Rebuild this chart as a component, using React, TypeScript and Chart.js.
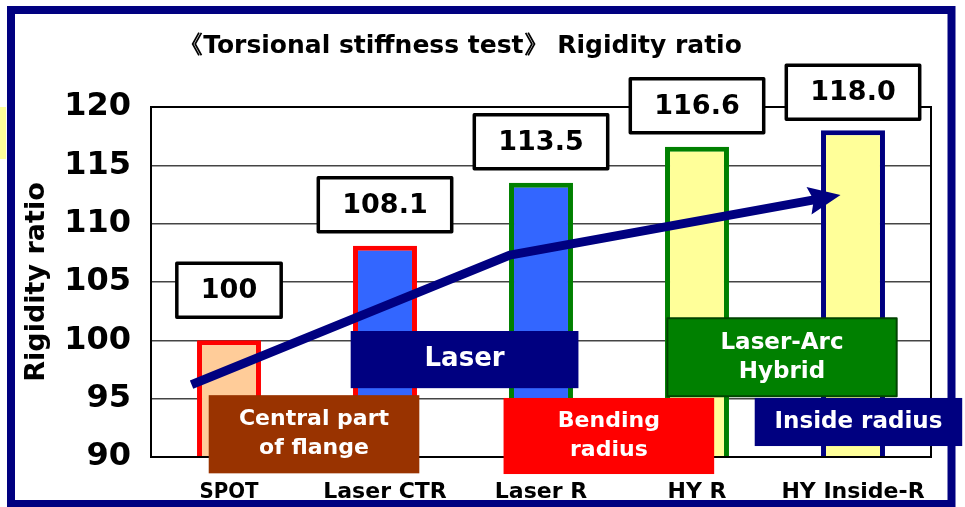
import React, { useEffect, useRef } from "react";
import { Chart, registerables } from "chart.js";

Chart.register(...registerables);

const categories = ["SPOT", "Laser CTR", "Laser R", "HY R", "HY Inside-R"];
const ratios = [100, 108.1, 113.5, 116.6, 118.0];
const valueLabels = ["100", "108.1", "113.5", "116.6", "118.0"];
const barFills = ["#FFCC99", "#3366FF", "#3366FF", "#FFFF99", "#FFFF99"];
const barBorders = ["#FF0000", "#FF0000", "#008000", "#008000", "#000080"];
// trend arrow, in (category index, ratio) coordinates
const trendIndex = [-0.24, 1.8, 3.92];
const trendRatio = [96.2, 107.3, 112.45];
const yMin = 90;
const yMax = 120;
const yStep = 5;

const FONT = "'DejaVu Sans', Verdana, sans-serif";
const TITLE = "《Torsional stiffness test》 Rigidity ratio";

// annotation boxes placed in (category index, ratio) coordinates
const notes = [
  { lines: ["Central part", "of flange"], x0: -0.13, x1: 1.22, y0: 95.3, y1: 88.6, bg: "#993300", size: 22, border: "" },
  { lines: ["Laser"], x0: 0.78, x1: 2.24, y0: 100.8, y1: 95.9, bg: "#000080", size: 26, border: "" },
  { lines: ["Bending", "radius"], x0: 1.76, x1: 3.11, y0: 95.06, y1: 88.54, bg: "#FF0000", size: 22, border: "" },
  { lines: ["Laser-Arc", "Hybrid"], x0: 2.81, x1: 4.28, y0: 101.9, y1: 95.2, bg: "#008000", size: 23, border: "#004400" },
  { lines: ["Inside radius"], x0: 3.37, x1: 4.7, y0: 95.06, y1: 90.94, bg: "#000080", size: 23, border: "" },
];
const labelLift = [23, 14, 14, 14, 11];

const overlay = {
  id: "overlay",
  afterDatasetsDraw(chart: any) {
    const { ctx, chartArea: a, scales } = chart;
    const x = scales.x;
    const y = scales.y;
    ctx.save();
    // plot frame
    ctx.strokeStyle = "#000";
    ctx.lineWidth = 2;
    ctx.strokeRect(a.left, a.top, a.right - a.left, a.bottom - a.top);

    // arrow
    const pts = trendIndex.map((v, i) => ({ x: x.getPixelForValue(v), y: y.getPixelForValue(trendRatio[i]) }));
    const tip = pts[pts.length - 1];
    const prev = pts[pts.length - 2];
    const len = Math.hypot(tip.x - prev.x, tip.y - prev.y);
    const dx = (tip.x - prev.x) / len;
    const dy = (tip.y - prev.y) / len;
    const headLen = 32;
    const headHalf = 14;
    ctx.strokeStyle = "#000080";
    ctx.fillStyle = "#000080";
    ctx.lineWidth = 9;
    ctx.lineJoin = "round";
    ctx.lineCap = "butt";
    ctx.beginPath();
    ctx.moveTo(pts[0].x, pts[0].y);
    for (let i = 1; i < pts.length - 1; i++) ctx.lineTo(pts[i].x, pts[i].y);
    ctx.lineTo(tip.x - dx * headLen * 0.8, tip.y - dy * headLen * 0.8);
    ctx.stroke();
    const bx = tip.x - dx * headLen;
    const by = tip.y - dy * headLen;
    ctx.beginPath();
    ctx.moveTo(tip.x, tip.y);
    ctx.lineTo(bx - dy * headHalf, by + dx * headHalf);
    ctx.lineTo(tip.x - dx * headLen * 0.85, tip.y - dy * headLen * 0.85);
    ctx.lineTo(bx + dy * headHalf, by - dx * headHalf);
    ctx.closePath();
    ctx.fill();

    // annotation boxes
    ctx.textAlign = "center";
    ctx.textBaseline = "middle";
    notes.forEach((n) => {
      const l = x.getPixelForValue(n.x0);
      const r = x.getPixelForValue(n.x1);
      const t = y.getPixelForValue(n.y0);
      const b = y.getPixelForValue(n.y1);
      ctx.fillStyle = n.bg;
      ctx.fillRect(l, t, r - l, b - t);
      if (n.border) {
        ctx.strokeStyle = n.border;
        ctx.lineWidth = 2;
        ctx.strokeRect(l, t, r - l, b - t);
      }
      ctx.fillStyle = "#FFFFFF";
      ctx.font = `bold ${n.size}px ${FONT}`;
      const lh = 29;
      const cy = (t + b) / 2;
      const cx = (l + r) / 2;
      n.lines.forEach((s, i) => {
        ctx.fillText(s, cx, cy + (i - (n.lines.length - 1) / 2) * lh);
      });
    });

    // value label boxes
    ctx.font = `bold 27px ${FONT}`;
    valueLabels.forEach((s, i) => {
      const cx = x.getPixelForValue(i);
      const top = y.getPixelForValue(ratios[i]);
      const w = ctx.measureText(s).width + 48;
      const h = 54;
      const bottom = top - labelLift[i];
      ctx.fillStyle = "#FFFFFF";
      ctx.fillRect(cx - w / 2, bottom - h, w, h);
      ctx.strokeStyle = "#000";
      ctx.lineWidth = 3.5;
      ctx.strokeRect(cx - w / 2, bottom - h, w, h);
      ctx.fillStyle = "#000";
      ctx.fillText(s, cx, bottom - h / 2 + 1);
    });
    ctx.restore();
  },
  beforeDraw(chart: any) {
    const { ctx } = chart;
    ctx.save();
    // outer frame (drawn first so axis labels may sit over it)
    ctx.strokeStyle = "#000080";
    ctx.lineWidth = 8;
    ctx.strokeRect(11, 10, 940.5, 494);
    // left yellow tab
    ctx.fillStyle = "#FFFF99";
    ctx.fillRect(0, 107, 6, 52);
    // title
    ctx.fillStyle = "#000";
    ctx.font = `bold 25px ${FONT}`;
    ctx.textAlign = "center";
    ctx.textBaseline = "middle";
    ctx.fillText(TITLE, 460, 46);
    ctx.restore();
  },
};

export default function App() {
  const ref = useRef<HTMLCanvasElement>(null);
  useEffect(() => {
    document.body.style.margin = "0";
    const canvas = ref.current!;
    const chart = new Chart(canvas, {
      type: "bar",
      data: {
        labels: categories,
        datasets: [
          {
            data: ratios,
            backgroundColor: barFills,
            borderColor: barBorders,
            borderWidth: 5,
            borderSkipped: "start",
            categoryPercentage: 1,
            barPercentage: 0.41,
          },
        ],
      },
      options: {
        responsive: false,
        animation: false,
        devicePixelRatio: 1,
        layout: { padding: { left: 0, right: 34, top: 107, bottom: 0 } },
        plugins: {
          legend: { display: false },
          title: { display: false },
          tooltip: { enabled: false },
        },
        scales: {
          x: {
            grid: { display: false },
            border: { display: true, color: "#000", width: 2 },
            ticks: {
              color: "#000",
              padding: 14,
              maxRotation: 0,
              font: (c: any) =>
                c.index === 0
                  ? { family: "'DejaVu Sans Condensed', 'DejaVu Sans', sans-serif", size: 22, weight: "bold" }
                  : { family: FONT, size: 22, weight: "bold" },
            },
            afterFit: (s: any) => {
              s.height = 50;
            },
          },
          y: {
            min: yMin,
            max: yMax,
            ticks: {
              stepSize: yStep,
              color: "#000",
              padding: 20,
              font: { family: FONT, size: 32, weight: "bold" },
            },
            grid: { color: "#444", lineWidth: 1.5, drawTicks: false },
            border: { display: true, color: "#000", width: 2 },
            title: {
              display: true,
              text: "Rigidity ratio",
              color: "#000",
              padding: { top: 21, bottom: 0 },
              font: { family: FONT, size: 27, weight: "bold" },
            },
            afterFit: (s: any) => {
              s.width = 151;
            },
          },
        },
      },
      plugins: [overlay],
    });
    return () => chart.destroy();
  }, []);
  return (
    <div style={{ width: 965, height: 507 }}>
      <canvas ref={ref} width={965} height={507} style={{ display: "block" }} />
    </div>
  );
}
